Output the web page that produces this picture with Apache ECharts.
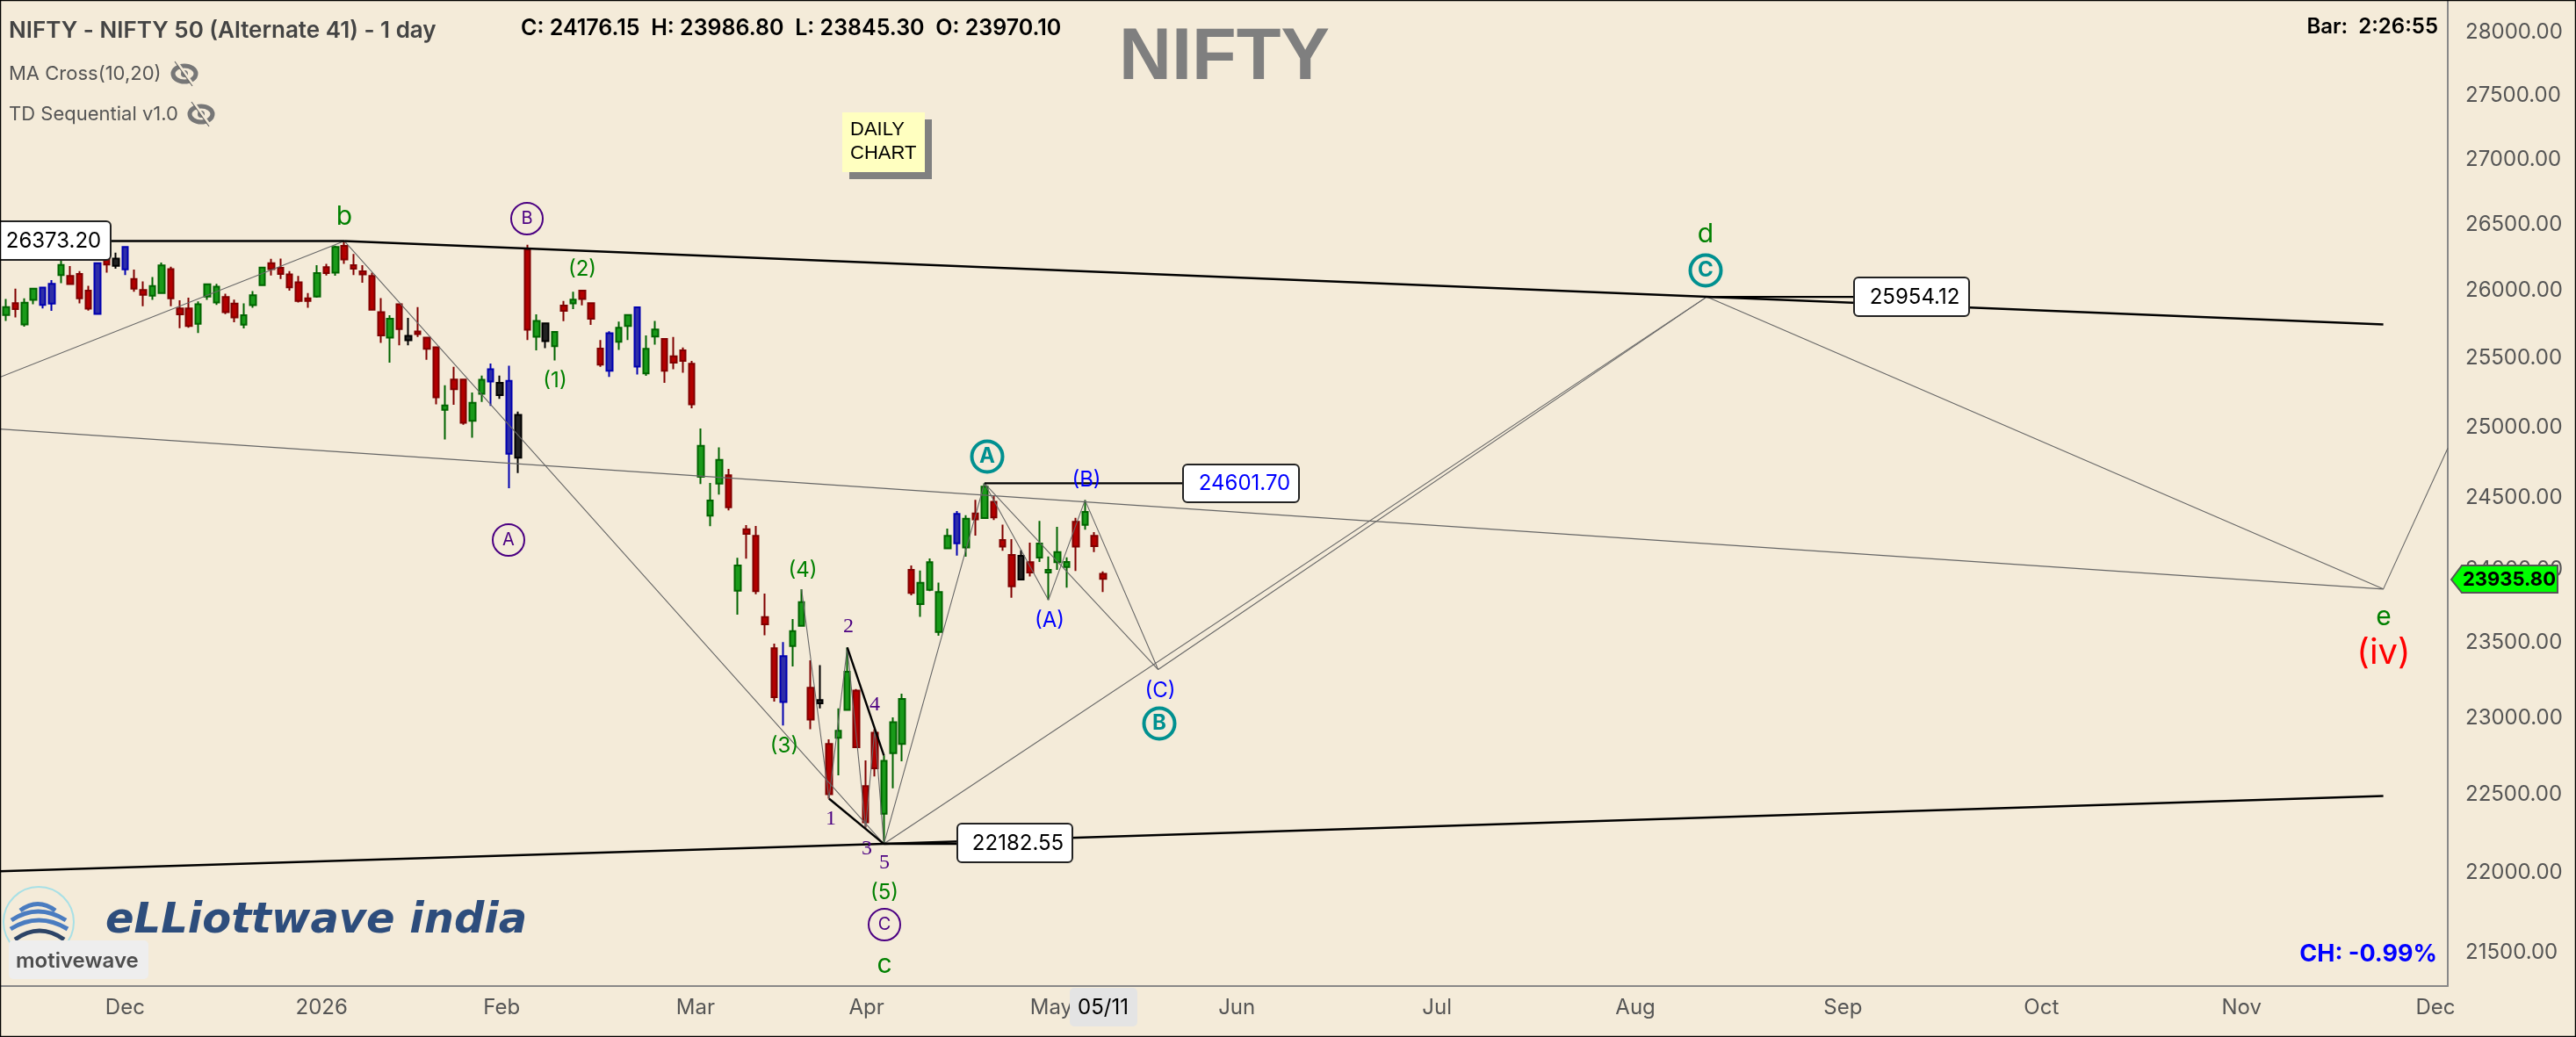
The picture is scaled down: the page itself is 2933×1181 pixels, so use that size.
<!DOCTYPE html>
<html><head><meta charset="utf-8">
<style>html,body{margin:0;padding:0;background:#f4ebd9}#c{width:2933px;height:1181px}</style>
<script src="https://cdn.jsdelivr.net/npm/echarts@6/dist/echarts.min.js"></script>
</head><body><div id="c"></div>
<script>
const opens=[25820,25908,25750,25932,25895,25904,26118,26110,26125,26000,25828,26280,26241,26160,26087,26006,25963,25982,26162,25869,25869,25755,25956,25913,25954,25904,25748,25893,26041,26206,26171,26123,26063,25943,25956,26176,26136,26337,26191,26145,26110,25841,25653,25900,25666,25698,25653,25581,25126,25346,25346,25047,25242,25331,25321,24811,25090,26309,25659,25757,25590,25889,25906,26000,25908,25572,25410,25622,25739,25440,25391,25661,25642,25515,25558,25461,24647,24374,24600,24658,23855,24280,24233,23675,23464,23104,23479,23616,23199,23118,22828,22868,23052,23180,22553,22902,22375,22768,22828,23839,23909,23861,23574,24146,24182,24152,24390,24357,24472,24205,24101,24095,24051,24083,23980,24051,24053,24158,24401,24233,23970.10];
const closes=[25878,25863,25910,26015,26024,26052,26193,26050,25943,25867,26206,26197,26186,26328,26015,25969,26035,26189,25943,25824,25739,25900,26048,26030,25841,25802,25817,25967,26174,26162,26125,26026,25923,25923,26132,26132,26328,26235,26165,26123,25859,25668,25792,25715,25633,25678,25570,25217,25158,25276,25033,25177,25344,25421,25232,25336,24784,25711,25776,25626,25694,25850,25934,25938,25792,25455,25685,25726,25820,25876,25570,25713,25410,25468,25481,25166,24868,24480,24767,24433,24028,24247,23851,23626,23137,23411,23580,23777,22988,23096,22501,22914,23307,22807,22321,22669,22717,22971,23125,23998,23763,24051,23845,24233,24386,24353,24349,24578,24362,24158,23885,23931,23980,24180,23998,24120,24018,24331,24310,24162,23935.80];
const highs=[25939,26015,25943,26020,26024,26079,26235,26185,26147,26037,26206,26324,26286,26328,26158,26070,26103,26211,26180,25928,25949,25921,26052,26052,25978,25934,25906,25998,26178,26239,26241,26147,26110,25982,26191,26202,26339,26373.2,26275,26191,26136,25945,25817,25900,25798,25878,25657,25586,25304,25438,25350,25251,25374,25463,25374,25446,25113,26346,25824,25761,25696,25923,25993,26002,25910,25635,25700,25770,25822,25876,25668,25776,25644,25657,25579,25481,24992,24605,24857,24704,24081,24308,24302,23835,23495,23505,23661,23865,23383,23350,22858,23062,23469,23190,22721,22925,22753,23003,23160,24028,23994,24077,23911,24284,24407,24378,24485,24601.7,24518,24312,24211,24134,24186,24337,24091,24296,24085,24359,24483,24260,23986.80];
const lows=[25776,25802,25733,25900,25869,25850,26057,26048,25906,25852,25828,26136,26165,26118,25993,25884,25932,25978,25884,25722,25726,25687,25932,25895,25826,25766,25720,25873,26037,26114,26087,26000,25913,25873,25949,26114,26112,26202,26118,26059,25852,25614,25468,25596,25596,25657,25489,25166,24913,25162,25018,24926,25183,25155,25206,24567,24674,25635,25558,25575,25485,25774,25863,25891,25746,25438,25365,25562,25635,25382,25372,25601,25321,25421,25395,25137,24597,24300,24522,24411,23691,24075,23831,23552,23108,22950,23342,23614,22925,23063,22473,22624,23050,22803,22286,22616,22182.55,22540,22715,23823,23677,23851,23548,24140,24097,24089,24235,24353,24343,24130,23807,23927,23952,24053,23791,23998,23875,23990,24276,24120,23845.30];
const kindList="g r g g b b g r r r b r k b r r g g r r r g g g r r g g g r r r r r g r g r r r r r g r k r r r g r r g g b k b k r g k g r g r r r b g g b g g r r r r g g g r g r r r r b g g r k r g g r r r g g g r g g g g b g r g r r r k r g g g g r g r r".split(" ");
const yTicks=[21500,22000,22500,23000,23500,24000,24500,25000,25500,26000,26500,27000,27500,28000];
const monthTicks=[13,34.5,54.2,75.4,94.1,114.3,134.6,156.5,178.2,200.9,222.6,244.5,265.7];
const monthLabels=["Dec","2026","Feb","Mar","Apr","May","Jun","Jul","Aug","Sep","Oct","Nov","Dec"];
const topTrend=[[37,26373.2],[260,25750]];
const flatB=[[-0.67,26373.2],[37,26373.2]];
const lowTrend=[[-0.67,22009],[96,22182.55],[260,22490]];
const subWaveA=[[90,22473],[96,22182.55]];
const subWaveB=[[92,23469],[96,22753]];
const flatA=[[107,24601.7],[130,24601.7]];
const flatLow=[[96,22182.55],[106,22182.55]];
const flatD=[[186,25954.12],[204,25954.12]];
const waveIn=[[-0.67,25363],[37,26373.2]];
const waveMain=[[37,26373.2],[96,22182.55],[107,24601.7],[114,23791],[118,24483],[126,23321],[186,25954.12],[260,23866],[267.05,24850]];
const waveAC=[[107,24601.7],[126,23321]];
const waveAltD=[[96,22182.55],[186,25954.12]];
const waveE=[[-0.67,24988],[260,23866]];
const waveMinor=[[87,23865],[90,22473],[92,23469],[94,22286],[95,22925],[96,22182.55]];

const PAL={g:["#1a9a1a","#006400"],r:["#b30000","#800000"],b:["#2e2ea8","#0000b0"],k:["#222222","#000000"]};
const candles=opens.map((o,i)=>{const p=PAL[kindList[i]]||PAL.r;return {value:[i,o,closes[i],lows[i],highs[i]],itemStyle:{color:p[0],color0:p[0],borderColor:p[1],borderColor0:p[1]}};});
const line=(d,w,c)=>({type:"line",data:d,symbol:"none",silent:true,z:5,animation:false,lineStyle:{width:w,color:c}});
const IF="Inter";
const gfx=[];
const t=(x,y,s,font,fill,align)=>gfx.push({type:"text",x,y,z:50,style:{text:s,font,fill,textAlign:align||"center",textVerticalAlign:"middle"}});
const ring=(x,y,r,c,lw)=>gfx.push({type:"circle",z:49,shape:{cx:x,cy:y,r},style:{fill:"transparent",stroke:c,lineWidth:lw}});
const box=(x,y,w,h)=>gfx.push({type:"rect",z:48,shape:{x,y,width:w,height:h,r:5},style:{fill:"#fff",stroke:"#222",lineWidth:2}});
const GR="#008000",PU="#4b0082",TE="#009090",BL="#0000ff";
gfx.push({type:"rect",z:60,shape:{x:0.5,y:0.5,width:2932,height:1180},style:{fill:"transparent",stroke:"#000",lineWidth:1.5}});
t(10,35,"NIFTY - NIFTY 50 (Alternate 41) - 1 day","600 26px "+IF,"#444","left");
t(593,32,"C: 24176.15  H: 23986.80  L: 23845.30  O: 23970.10","600 25px "+IF,"#000","left");
t(10,84,"MA Cross(10,20)","22px "+IF,"#555","left");
t(10,130,"TD Sequential v1.0","22px "+IF,"#555","left");
[[210,84],[229,130]].forEach(([x,y])=>{
  gfx.push({type:"ellipse",z:49,shape:{cx:x,cy:y,rx:13,ry:9},style:{fill:"transparent",stroke:"#777",lineWidth:5}});
  gfx.push({type:"circle",z:49,shape:{cx:x,cy:y,r:4},style:{fill:"#777"}});
  gfx.push({type:"line",z:50,shape:{x1:x-9,y1:y-14,x2:x+11,y2:y+14},style:{stroke:"#f4ebd9",lineWidth:3}});
  gfx.push({type:"line",z:50,shape:{x1:x-11,y1:y-14,x2:x+9,y2:y+14},style:{stroke:"#666",lineWidth:1.2}});
});
t(1394,67,"NIFTY","bold 83px 'Liberation Sans'","#7f7f7f");
gfx.push({type:"rect",z:47,shape:{x:967,y:136,width:94,height:68},style:{fill:"#808080"}});
gfx.push({type:"rect",z:48,shape:{x:959,y:128,width:94,height:68},style:{fill:"#ffffc0"}});
t(968,148,"DAILY","22px 'Liberation Sans'","#000","left");
t(968,175,"CHART","22px 'Liberation Sans'","#000","left");
t(2776,31,"Bar:  2:26:55","600 24px "+IF,"#000","right");
t(2775,1087,"CH: -0.99%","bold 27px "+IF,"#0000ff","right");
gfx.push({type:"circle",z:40,shape:{cx:44,cy:1050,r:40},style:{fill:"transparent",stroke:"#a8e0e6",lineWidth:2}});
[[23,1037,43,1022,63,"#4a7cc0"],[13,1048,43,1028,75,"#4a7cc0"],[12,1058,44,1038,77,"#4a7cc0"],[17,1070,45,1050,73,"#2d4466"]].forEach(a=>{
  gfx.push({type:"bezierCurve",z:41,shape:{x1:a[0],y1:a[1],cpx1:a[2],cpy1:a[3],x2:a[4],y2:a[1]},style:{fill:"transparent",stroke:a[5],lineWidth:5}});
});
t(120,1050,"eLLiottwave india","italic bold 48px 'DejaVu Sans'","#2d4d7c","left");
gfx.push({type:"rect",z:48,shape:{x:10,y:1071,width:159,height:44,r:5},style:{fill:"#eeeeee"}});
t(18,1095,"motivewave","600 24px "+IF,"#4d4d4d","left");
gfx.push({type:"rect",z:48,shape:{x:1218,y:1125,width:77,height:44,r:5},style:{fill:"#e4e4e4"}});
t(1256,1148,"05/11","24px "+IF,"#000");
gfx.push({type:"polygon",z:48,shape:{points:[[2791,660],[2803,644],[2912,644],[2912,675],[2803,675]]},style:{fill:"#00ff00",stroke:"#555",lineWidth:2}});
t(2857,660,"23935.80","bold 22px "+IF,"#000");
box(-4,252,130,44);t(61,275,"26373.20","24px "+IF,"#000");
box(1090,938,131,44);t(1159,961,"22182.55","24px "+IF,"#000");
box(1347,529,132,43);t(1417,551,"24601.70","24px "+IF,BL);
box(2111,316,131,44);t(2180,339,"25954.12","24px "+IF,"#000");
const gf="30px "+IF,pf="24px "+IF,sf="24px 'Liberation Serif'";
t(392,247,"b",gf,GR);
ring(600,249,18,PU,2);t(600,249,"B","20px "+IF,PU);
t(663,307,"(2)",pf,GR);t(632,434,"(1)",pf,GR);
ring(579,615,18,PU,2);t(579,615,"A","20px "+IF,PU);
t(914,650,"(4)",pf,GR);t(893,850,"(3)",pf,GR);
t(966,714,"2",sf,PU);t(996,803,"4",sf,PU);t(946,933,"1",sf,PU);t(987,967,"3",sf,PU);t(1007,983,"5",sf,PU);
t(1007,1017,"(5)",pf,GR);
ring(1007,1053,18,PU,2);t(1007,1053,"C","20px "+IF,PU);
t(1007,1099,"c",gf,GR);
ring(1124,520,17.5,TE,4);t(1124,520,"A","bold 24px "+IF,TE);
t(1237,547,"(B)",pf,BL);t(1195,707,"(A)",pf,BL);t(1321,787,"(C)",pf,BL);
ring(1320,824,17.5,TE,4);t(1320,824,"B","bold 24px "+IF,TE);
t(1942,267,"d",gf,GR);
ring(1942,308,17.5,TE,4);t(1942,308,"C","bold 24px "+IF,TE);
t(2714,703,"e",gf,GR);
t(2714,744,"(iv)","40px "+IF,"#ff0000");

const chart=echarts.init(document.getElementById("c"),null,{renderer:"canvas",width:2933,height:1181});
chart.setOption({
  animation:false,
  backgroundColor:"#f4ebd9",
  grid:{left:0,top:0,width:2787,height:1122.7},
  xAxis:{type:"value",min:-0.672,max:267.05,splitLine:{show:false},
    axisLine:{onZero:false,lineStyle:{color:"#888",width:2}},axisTick:{show:false},
    axisLabel:{customValues:monthTicks,hideOverlap:false,showMinLabel:true,showMaxLabel:true,margin:13,color:"#555",fontFamily:IF,fontSize:24,
      formatter:v=>monthLabels[monthTicks.indexOf(v)]||""}},
  yAxis:{type:"log",logBase:10,position:"right",min:21297,max:28263,splitLine:{show:false},minorTick:{show:false},
    axisLine:{show:true,onZero:false,lineStyle:{color:"#888",width:2}},axisTick:{show:false},
    axisLabel:{customValues:yTicks,margin:20,color:"#555",fontFamily:IF,fontSize:24,formatter:v=>Number(v).toFixed(2)}},
  series:[
    {type:"candlestick",data:candles,barWidth:7,z:3,silent:true,itemStyle:{borderWidth:2}},
    line(waveIn,1.1,"#666"),line(waveMain,1.1,"#666"),line(waveAC,1.1,"#666"),line(waveAltD,1.1,"#666"),line(waveE,1.1,"#666"),line(waveMinor,1.1,"#666"),
    line(topTrend,2.4,"#000"),line(flatB,2.4,"#000"),line(lowTrend,2.4,"#000"),line(subWaveA,2.4,"#000"),line(subWaveB,2.4,"#000"),line(flatA,2.4,"#000"),line(flatLow,2.4,"#000"),line(flatD,2.4,"#000")
  ],
  graphic:gfx
});
</script></body></html>
